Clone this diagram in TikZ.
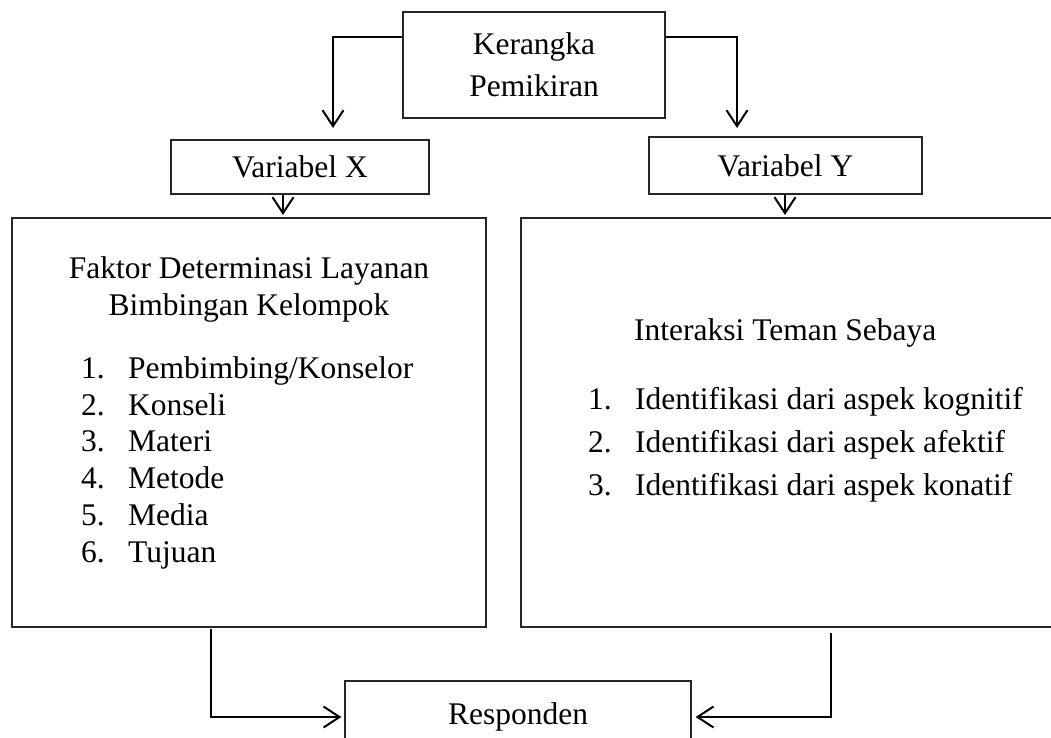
\documentclass[tikz,border=0pt]{standalone}
\usepackage{fontspec}
\setmainfont{Liberation Serif}
\usetikzlibrary{arrows.meta}
\newcommand{\listno}[1]{\makebox[47pt][l]{#1}}

\begin{document}
\begin{tikzpicture}[
    x=1pt, y=-1pt,
    box/.style={rectangle, draw=black!85, line width=1.3pt, inner sep=0pt, align=center},
    txt/.style={anchor=base, inner sep=0pt},
    item/.style={anchor=base west, inner sep=0pt},
    arr/.style={-{Straight Barb[length=16pt,width=21pt]}, line width=2pt},
    font=\fontsize{31.5}{38}\selectfont
]
\useasboundingbox (0,0) rectangle (1051,737);
\clip (0,0) rectangle (1051,737);

% Top
\node[box, minimum width=262pt, minimum height=106pt, font=\fontsize{31.5}{42}\selectfont] (kerangka) at (534,65) {Kerangka\\Pemikiran};

% Variables
\node[box, minimum width=258pt, minimum height=54pt] (varx) at (300,167) {Variabel X};
\node[box, minimum width=273pt, minimum height=57pt] (vary) at (785.5,165.5) {Variabel Y};

% Big boxes
\node[box, minimum width=474pt, minimum height=409pt] (faktor) at (249,422.5) {};
\node[box, minimum width=539pt, minimum height=409pt] (interaksi) at (790.5,422.5) {};

% Faktor content
\node[txt] (faktorA) at (249,278) {Faktor Determinasi Layanan};
\node[txt] (faktorB) at (249,315) {Bimbingan Kelompok};
\node[item] (f1) at (81,378) {\listno{1.}Pembimbing/Konselor};
\node[item] (f2) at (81,415) {\listno{2.}Konseli};
\node[item] (f3) at (81,451) {\listno{3.}Materi};
\node[item] (f4) at (81,488) {\listno{4.}Metode};
\node[item] (f5) at (81,525) {\listno{5.}Media};
\node[item] (f6) at (81,562) {\listno{6.}Tujuan};

% Interaksi content
\node[item] (interA) at (634,340) {Interaksi Teman Sebaya};
\node[item] (i1) at (588,409) {\listno{1.}Identifikasi dari aspek kognitif};
\node[item] (i2) at (588,452) {\listno{2.}Identifikasi dari aspek afektif};
\node[item] (i3) at (588,495) {\listno{3.}Identifikasi dari aspek konatif};

% Bottom
\node[box, minimum width=346pt, minimum height=72pt] (resp) at (518,717) {Responden};

% Connector ends
\coordinate (xin) at (333,128);
\coordinate (yin) at (737,128);
\coordinate (xout) at (283,215);
\coordinate (yout) at (785,215);
\coordinate (fout) at (211,629);
\coordinate (iout) at (831,633);

% Connections
\draw[arr] (kerangka.168) -| (xin);
\draw[arr] (kerangka.12) -| (yin);
\draw[arr] (varx.south -| xout) -- (xout);
\draw[arr] (vary.south -| yout) -- (yout);
\draw[arr, shorten >=3pt] (fout) |- (resp.west);
\draw[arr, shorten >=4pt] (iout) |- (resp.east);

\end{tikzpicture}
\end{document}
